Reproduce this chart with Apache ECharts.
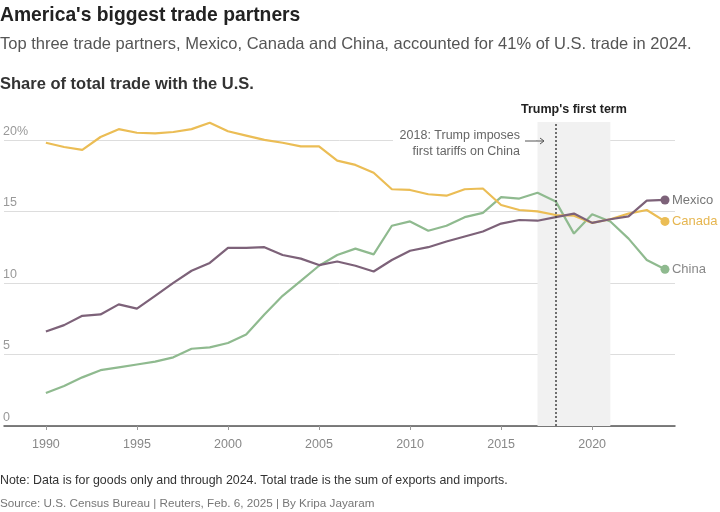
<!DOCTYPE html>
<html><head><meta charset="utf-8">
<script src="https://cdn.jsdelivr.net/npm/echarts@6/dist/echarts.min.js"></script>
<style>html,body{margin:0;padding:0;background:#fff}#c{width:720px;height:512px}</style>
</head><body><div id="c"></div>
<script>
const years = [1990,1991,1992,1993,1994,1995,1996,1997,1998,1999,2000,2001,2002,2003,2004,2005,2006,2007,2008,2009,2010,2011,2012,2013,2014,2015,2016,2017,2018,2019,2020,2021,2022,2023,2024];
const canada = [19.8,19.5,19.3,20.2,20.75,20.5,20.45,20.55,20.75,21.2,20.6,20.3,20.0,19.8,19.55,19.55,18.55,18.25,17.7,16.55,16.5,16.2,16.1,16.55,16.6,15.45,15.1,15.0,14.75,14.7,14.2,14.45,14.85,15.1,14.3];
const mexico = [6.6,7.05,7.7,7.8,8.5,8.2,9.1,10.0,10.85,11.4,12.45,12.45,12.5,11.95,11.7,11.25,11.5,11.2,10.8,11.6,12.25,12.5,12.9,13.25,13.6,14.15,14.4,14.35,14.6,14.85,14.2,14.45,14.65,15.75,15.8];
const china = [2.3,2.8,3.4,3.9,4.1,4.3,4.5,4.8,5.4,5.5,5.8,6.4,7.8,9.1,10.15,11.2,11.95,12.4,12.0,14.0,14.3,13.65,14.0,14.6,14.9,16.0,15.9,16.3,15.7,13.45,14.8,14.3,13.1,11.6,10.95];
const xTickLabels = [1990,1995,2000,2005,2010,2015,2020];
const seriesNames = ['China','Canada','Mexico'];
const termStart = 2017, termEnd = 2021, tariffYear = 2018;

const FONT = "'Liberation Sans', Arial, sans-serif";
const chart = echarts.init(document.getElementById('c'), null, {renderer:'canvas'});
const last = years.length - 1;
function mk(name, vals, color, labelColor, extra) {
  return Object.assign({
    type:'line', name, data: years.map((y,i)=>[y, vals[i]]),
    color, lineStyle:{width:2.2, color}, clip:false,
    symbol:'circle', showAllSymbol:true,
    symbolSize:(v,p)=> p.dataIndex === last ? 9 : 0,
    itemStyle:{color},
    silent:true, animation:false,
    endLabel:{show:true, formatter:name, color:labelColor, fontSize:13, fontFamily:FONT, distance:7}
  }, extra||{});
}
chart.setOption({
  animation:false,
  textStyle:{fontFamily:FONT},
  title:[
    {text:"America's biggest trade partners", left:0, top:6, padding:0, textStyle:{fontSize:19.3, fontWeight:'bold', color:'#222', fontFamily:FONT}},
    {text:"Top three trade partners, Mexico, Canada and China, accounted for 41% of U.S. trade in 2024.", left:0, top:36, padding:0, textStyle:{fontSize:16.5, fontWeight:'normal', color:'#555', fontFamily:FONT}},
    {text:"Share of total trade with the U.S.", left:0, top:76, padding:0, textStyle:{fontSize:16.5, fontWeight:'bold', color:'#333', fontFamily:FONT}},
    {text:"Note: Data is for goods only and through 2024. Total trade is the sum of exports and imports.", left:0, top:475, padding:0, textStyle:{fontSize:12.4, fontWeight:'normal', color:'#333', fontFamily:FONT}},
    {text:"Source: U.S. Census Bureau | Reuters, Feb. 6, 2025 | By Kripa Jayaram", left:0, top:498, padding:0, textStyle:{fontSize:11.7, fontWeight:'normal', color:'#777', fontFamily:FONT}}
  ],
  grid:{left:0, right:45, top:122, bottom:86, containLabel:false},
  xAxis:{
    type:'value', min:1987.7, max:2024.55,
    axisLine:{show:true, lineStyle:{color:'#555', width:1.5}},
    axisTick:{show:true, customValues:xTickLabels, length:4, lineStyle:{color:'#999'}},
    axisLabel:{customValues:xTickLabels, color:'#888', fontSize:12.5, margin:12, fontFamily:FONT, formatter:v => String(v)},
    splitLine:{show:false}
  },
  yAxis:{
    type:'value', min:0, max:21.25, interval:5,
    axisLine:{show:false}, axisTick:{show:false},
    axisLabel:{inside:true, showMaxLabel:false, verticalAlign:'bottom', margin:-1, padding:[0,0,2,0],
      color:'#999', fontSize:12.5, fontFamily:FONT,
      formatter:v => v === 20 ? '20%' : String(v)},
    splitLine:{show:true, showMaxLine:false, lineStyle:{color:'#ddd', width:1}}
  },
  series:[
    mk('China', china, '#8fba8f', '#888', {
      markArea:{silent:true, itemStyle:{color:'#f1f1f1'},
        label:{show:true, position:'top', color:'#222', fontWeight:'bold', fontSize:12.5, fontFamily:FONT, distance:6},
        data:[[{xAxis:termStart, name:"Trump's first term"},{xAxis:termEnd}]]},
      markLine:{silent:true, symbol:'none', label:{show:false},
        lineStyle:{type:[2,2], color:'#444', width:1.5},
        data:[{xAxis:tariffYear}]}
    }),
    mk('Canada', canada, '#ebbd55', '#e6b650'),
    mk('Mexico', mexico, '#7d6279', '#777')
  ],
  graphic:[
    {type:'rect', shape:{x:393, y:127, width:143, height:33}, style:{fill:'#fff'}, z:5, silent:true},
    {type:'text', z:6, style:{text:'2018: Trump imposes', x:520, y:136, textAlign:'right', textVerticalAlign:'middle', fill:'#666', font:'12.5px '+FONT}},
    {type:'text', z:6, style:{text:'first tariffs on China', x:520, y:152, textAlign:'right', textVerticalAlign:'middle', fill:'#666', font:'12.5px '+FONT}},
    {type:'line', z:6, shape:{x1:525, y1:141, x2:544, y2:141}, style:{stroke:'#555', lineWidth:1}},
    {type:'polyline', z:6, shape:{points:[[540,138],[544,141],[540,144]]}, style:{stroke:'#555', lineWidth:1, fill:null}}
  ]
});
</script>
</body></html>
